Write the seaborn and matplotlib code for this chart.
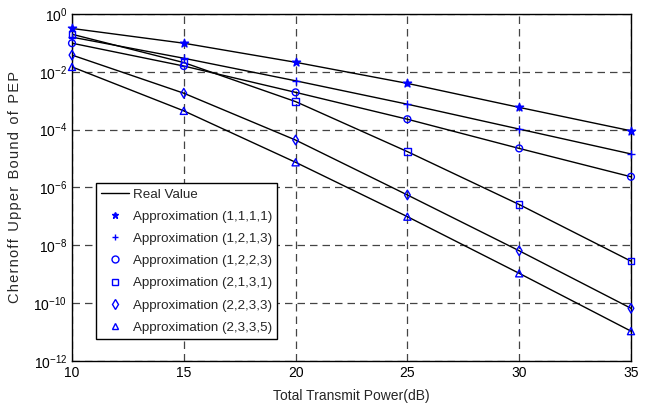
import numpy as np
import pandas as pd
import matplotlib
matplotlib.use("Agg")
import matplotlib.pyplot as plt
from matplotlib.lines import Line2D
import seaborn as sns

# ---- data (log10 of Chernoff upper bound) ----
power_db = [10, 15, 20, 25, 30, 35]
series_names = ["(1,1,1,1)", "(1,2,1,3)", "(1,2,2,3)", "(2,1,3,1)", "(2,2,3,3)", "(2,3,3,5)"]
log_s1111 = [-0.50, -1.01, -1.67, -2.40, -3.23, -4.04]
log_s1213 = [-0.80, -1.53, -2.31, -3.12, -3.98, -4.84]
log_s1223 = [-1.01, -1.80, -2.71, -3.64, -4.65, -5.63]
log_s2131 = [-0.70, -1.68, -3.03, -4.76, -6.59, -8.55]
log_s2233 = [-1.42, -2.74, -4.36, -6.26, -8.19, -10.18]
log_s2335 = [-1.83, -3.35, -5.13, -7.01, -8.97, -10.97]
all_logs = [log_s1111, log_s1213, log_s1223, log_s2131, log_s2233, log_s2335]
marker_list = ["*", "+", "o", "s", "d", "^"]
yticks_exp = [0, -2, -4, -6, -8, -10, -12]
xticks = [10, 15, 20, 25, 30, 35]

rows = []
for name, vals in zip(series_names, all_logs):
    for x, v in zip(power_db, vals):
        rows.append({"power": x, "pep": 10.0 ** v, "series": name})
df = pd.DataFrame(rows)

sns.set_theme(style="white")
plt.rcParams["font.family"] = ["Liberation Sans", "DejaVu Sans"]
plt.rcParams["mathtext.fontset"] = "custom"
plt.rcParams["mathtext.rm"] = "Liberation Sans"

fig = plt.figure(figsize=(6.57, 4.12), dpi=100)
ax = fig.add_axes([0.1096, 0.124, 0.8508, 0.842])

# lines (black)
sns.lineplot(data=df, x="power", y="pep", hue="series", palette=["black"] * 6,
             linewidth=1.0, legend=False, ax=ax, estimator=None, sort=True)
# markers (blue)
sizes = {"*": 38, "+": 32, "o": 24, "s": 22, "d": 24, "^": 26}
for name, mk in zip(series_names, marker_list):
    sub = df[df["series"] == name]
    filled = mk in ("*", "+")
    sns.scatterplot(data=sub, x="power", y="pep", marker=mk, s=sizes[mk],
                    facecolor="blue" if filled else "none", edgecolor="blue",
                    color="blue", linewidth=1.0, legend=False, ax=ax, zorder=3,
                    clip_on=False)

ax.set_yscale("log")
ax.set_ylim(1e-12, 1)
ax.set_xlim(10, 35)
ax.set_xticks(xticks)
ax.set_xticklabels([str(t) for t in xticks])
ax.set_yticks([10.0 ** e for e in yticks_exp])
ax.set_yticklabels([r"$\mathregular{10^{%d}}$" % e for e in yticks_exp])
ax.minorticks_off()
ax.tick_params(axis="both", direction="in", length=4, width=0.8, labelsize=10, colors="black")
ax.grid(True, which="major", linestyle=(0, (6, 4)), color="#444444", linewidth=0.9)
for sp in ax.spines.values():
    sp.set_color("black")
    sp.set_linewidth(1.0)

ax.set_xlabel("Total Transmit Power(dB)", fontsize=10, labelpad=7)
ax.set_ylabel("C h e r n o f f   U p p e r   B o u n d   o f   P E P".replace("   ", "\u2002").replace(" ", "\u200a"),
              fontsize=10.5, labelpad=8)

handles = [Line2D([0], [0], color="black", lw=1.0, label="Real Value")]
for name, mk in zip(series_names, marker_list):
    filled = mk in ("*", "+")
    handles.append(Line2D([0], [0], linestyle="none", marker=mk, markersize=5,
                          markerfacecolor="blue" if filled else "none",
                          markeredgecolor="blue", markeredgewidth=1.0,
                          label="Approximation " + name))
leg = ax.legend(handles=handles, loc="lower left", bbox_to_anchor=(0.043, 0.063),
                fontsize=9.6, frameon=True, fancybox=False, edgecolor="black",
                framealpha=1, handlelength=2.1, borderpad=0.4, labelspacing=0.74,
                handletextpad=0.25, borderaxespad=0)
leg.get_frame().set_linewidth(1.0)

fig.savefig("out.png", dpi=100)
